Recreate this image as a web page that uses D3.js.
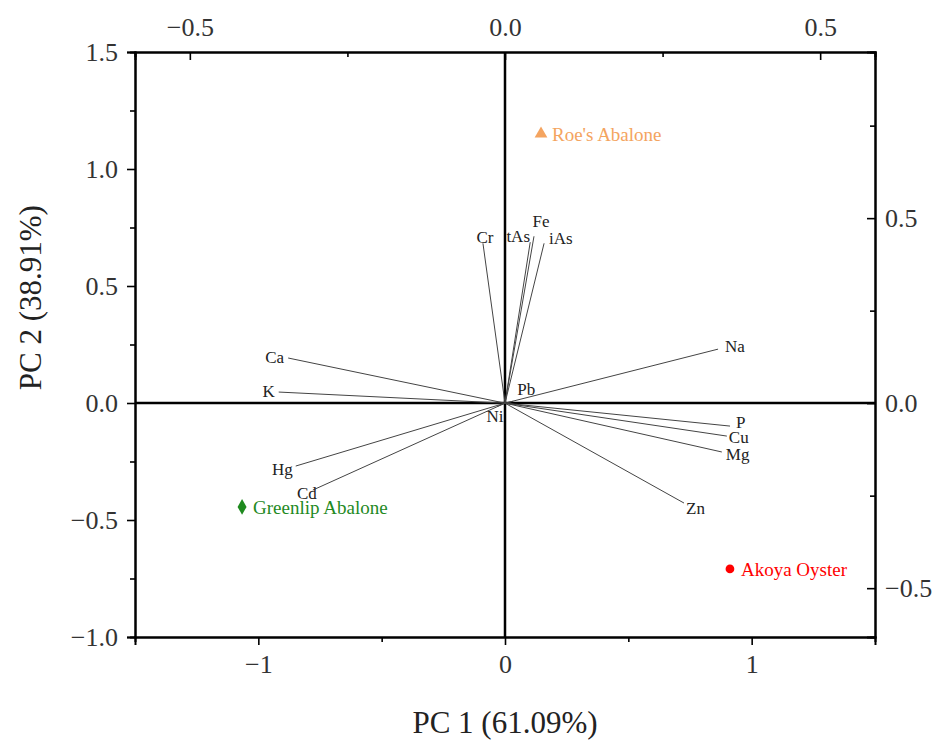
<!DOCTYPE html>
<html lang="en">
<head>
<meta charset="UTF-8">
<title>PCA Biplot</title>
<style>
body { margin: 0; background: #fff; }
text { font-family: 'Liberation Serif', 'Times New Roman', serif; fill: #222; }
.axis path { stroke: #000; stroke-width: 2; }
.axis line { stroke: #000; stroke-width: 1.6; }
.axis text { font-size: 26px; fill: #333; }
.vec { stroke: #444; stroke-width: 1; }
.vlabel { font-size: 17px; }
.slabel { font-size: 19px; }
</style>
</head>
<body>
<svg width="932" height="740"></svg>
<script src="https://d3js.org/d3.v7.min.js"></script>
<script>
// variable loadings (read against top / right axes)
var variables   = ['Cr', 'tAs', 'Fe', 'iAs', 'Ca', 'K', 'Pb', 'Ni', 'Na', 'P', 'Cu', 'Mg', 'Zn', 'Hg', 'Cd'];
var pc1Loadings = [-0.035, 0.040, 0.046, 0.062, -0.344, -0.359, 0.013, -0.011, 0.338, 0.357, 0.352, 0.344, 0.284, -0.332, -0.305];
var pc2Loadings = [0.432, 0.435, 0.451, 0.432, 0.122, 0.030, 0.005, -0.008, 0.146, -0.062, -0.089, -0.132, -0.270, -0.170, -0.235];

// sample scores (read against bottom / left axes)
var samples   = ["Roe's Abalone", 'Greenlip Abalone', 'Akoya Oyster'];
var pc1Scores = [0.146, -1.066, 0.912];
var pc2Scores = [1.150, -0.444, -0.709];

var xTitle = 'PC 1 (61.09%)';
var yTitle = 'PC 2 (38.91%)';

// label placement: [anchor, dx, dy]
var place = {
    Cr: ['middle', 2, 0], tAs: ['middle', -12, 0], Fe: ['middle', 7, -9], iAs: ['start', 5, 1],
    Ca: ['end', -4, 5], K: ['end', -4, 5], Pb: ['start', 4, -6], Ni: ['middle', -3, 16],
    Na: ['start', 7, 3], P: ['start', 6, 2], Cu: ['start', 2, 7], Mg: ['start', 4, 8],
    Zn: ['start', 2, 11], Hg: ['end', -3, 9], Cd: ['end', 4, 9]
};
var sampleStyle = [
    { color: '#f4a460', symbol: d3.symbolTriangle },
    { color: '#1f8a1f', symbol: d3.symbolDiamond },
    { color: '#ff0000', symbol: d3.symbolCircle }
];

var svg = d3.select('svg');
var margin = { top: 52, right: 57, bottom: 103, left: 135 };
var width = +svg.attr('width') - margin.left - margin.right;
var height = +svg.attr('height') - margin.top - margin.bottom;

var x = d3.scaleLinear().domain([-1.5, 1.5]).range([0, width]);
var y = d3.scaleLinear().domain([-1.0, 1.5]).range([height, 0]);
var x2 = d3.scaleLinear().domain([-0.587, 0.587]).range([0, width]);
var y2 = d3.scaleLinear().domain([-0.632, 0.949]).range([height, 0]);

var g = svg.append('g').attr('transform', 'translate(' + margin.left + ',' + margin.top + ')');

var minus = function(s) { return s.replace('-', '\u2212'); };

// minor ticks first
function minor(axisFn, scale, vals, size) {
    return axisFn(scale).tickValues(vals).tickSize(size).tickFormat('');
}
g.append('g').attr('class', 'axis').attr('transform', 'translate(0,' + height + ')')
    .call(minor(d3.axisBottom, x, [-0.5, 0.5], 5));
g.append('g').attr('class', 'axis')
    .call(minor(d3.axisLeft, y, [-0.75, -0.25, 0.25, 0.75, 1.25], 5));
g.append('g').attr('class', 'axis')
    .call(minor(d3.axisTop, x2, [-0.25, 0.25], -5));
g.append('g').attr('class', 'axis').attr('transform', 'translate(' + width + ',0)')
    .call(minor(d3.axisRight, y2, [-0.25, 0.25, 0.75], -5));

// major axes
g.append('g').attr('class', 'axis').attr('transform', 'translate(0,' + height + ')')
    .call(d3.axisBottom(x).tickValues([-1, 0, 1]).tickSize(8).tickPadding(10)
        .tickFormat(function(d) { return minus(d3.format('d')(d)); }));
g.append('g').attr('class', 'axis')
    .call(d3.axisLeft(y).tickValues([-1, -0.5, 0, 0.5, 1, 1.5]).tickSize(8).tickPadding(9)
        .tickFormat(function(d) { return minus(d3.format('.1f')(d)); }));
g.append('g').attr('class', 'axis')
    .call(d3.axisTop(x2).tickValues([-0.5, 0, 0.5]).tickSize(-8).tickPadding(16)
        .tickFormat(function(d) { return minus(d3.format('.1f')(d)); }));
g.append('g').attr('class', 'axis').attr('transform', 'translate(' + width + ',0)')
    .call(d3.axisRight(y2).tickValues([-0.5, 0, 0.5]).tickSize(-8).tickPadding(10)
        .tickFormat(function(d) { return minus(d3.format('.1f')(d)); }));

// zero lines
g.append('line').attr('x1', x(0)).attr('x2', x(0)).attr('y1', 0).attr('y2', height)
    .attr('stroke', '#000').attr('stroke-width', 2.5);
g.append('line').attr('x1', 0).attr('x2', width).attr('y1', y(0)).attr('y2', y(0))
    .attr('stroke', '#000').attr('stroke-width', 2.5);

// loading vectors
var vecs = g.append('g').selectAll('g').data(variables).enter().append('g');
vecs.append('line').attr('class', 'vec')
    .attr('x1', x2(0)).attr('y1', y2(0))
    .attr('x2', function(d, i) { return x2(pc1Loadings[i]); })
    .attr('y2', function(d, i) { return y2(pc2Loadings[i]); });
vecs.append('text').attr('class', 'vlabel')
    .attr('text-anchor', function(d) { return place[d][0]; })
    .attr('x', function(d, i) { return x2(pc1Loadings[i]) + place[d][1]; })
    .attr('y', function(d, i) { return y2(pc2Loadings[i]) + place[d][2]; })
    .text(function(d) { return d; });

// sample scores
var pts = g.append('g').selectAll('g').data(samples).enter().append('g')
    .attr('transform', function(d, i) { return 'translate(' + x(pc1Scores[i]) + ',' + y(pc2Scores[i]) + ')'; });
pts.append('path')
    .attr('d', function(d, i) { return d3.symbol().type(sampleStyle[i].symbol).size(i === 2 ? 60 : 70)(); })
    .attr('fill', function(d, i) { return sampleStyle[i].color; });
pts.append('text').attr('class', 'slabel')
    .attr('x', 11).attr('y', 7)
    .style('fill', function(d, i) { return sampleStyle[i].color; })
    .text(function(d) { return d; });

// axis titles
svg.append('text').attr('x', margin.left + width / 2).attr('y', 733)
    .attr('text-anchor', 'middle').style('font-size', '31px').text(xTitle);
svg.append('text').attr('transform', 'translate(41,' + (margin.top + y(0.45)) + ') rotate(-90)')
    .attr('text-anchor', 'middle').style('font-size', '31px').text(yTitle);
</script>
</body>
</html>
